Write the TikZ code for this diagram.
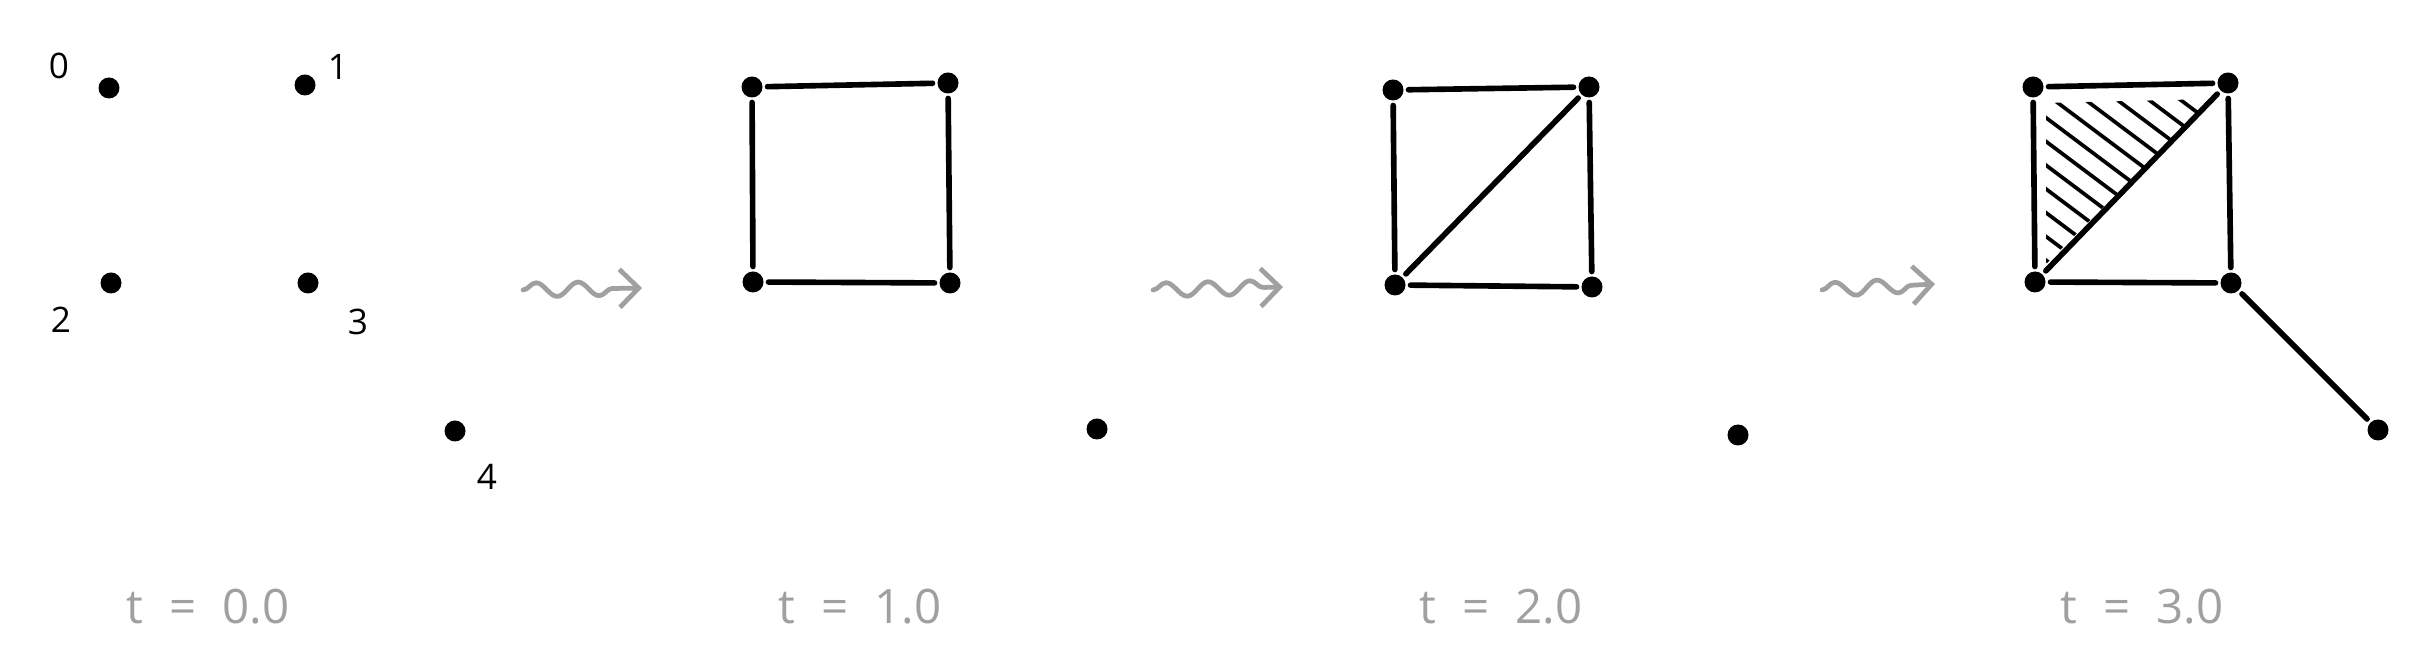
\documentclass[tikz,border=0pt]{standalone}
\usepackage{fontspec}
\setmainfont{Open Sans}
\usepackage{xcolor}
\usetikzlibrary{arrows.meta,calc,decorations.pathmorphing}
\definecolor{sketchgray}{HTML}{A0A0A0}

\begin{document}
\begin{tikzpicture}[>=Latex,
    vertex/.style={circle,fill=black,inner sep=0pt,minimum size=0.21cm,outer sep=0.05cm},
    edge/.style={line width=1.6pt,line cap=round},
    hatch/.style={line width=1.05pt,line cap=round},
    idx/.style={font=\fontsize{10}{11}\selectfont},
    stamp/.style={font=\fontsize{13.5}{15}\selectfont,text=sketchgray,
      execute at begin node={\spaceskip=0.55em}},
    morph/.style={draw=sketchgray,line width=1.35pt,line cap=round,line join=round,
      decorate,decoration={snake,amplitude=0.07cm,segment length=0.42cm,post length=0.18cm},
      -{Straight Barb[length=0.19cm,width=0.38cm,line width=1.35pt]}}]
      \useasboundingbox (0,0) rectangle (24.2,-6.45);
      % t = 0.0
      \node[vertex] (a0) at (1.09,-0.88) {};
      \node[vertex] (a1) at (3.05,-0.85) {};
      \node[vertex] (a2) at (1.11,-2.83) {};
      \node[vertex] (a3) at (3.08,-2.83) {};
      \node[vertex] (a4) at (4.55,-4.31) {};
      \node[idx] (l0) at (0.59,-0.66) {0};
      \node[idx] (l1) at (3.38,-0.67) {1};
      \node[idx] (l2) at (0.61,-3.20) {2};
      \node[idx] (l3) at (3.58,-3.22) {3};
      \node[idx] (l4) at (4.87,-4.77) {4};
      % t = 1.0
      \node[vertex] (b0) at (7.52,-0.87) {};
      \node[vertex] (b1) at (9.48,-0.83) {};
      \node[vertex] (b2) at (7.53,-2.82) {};
      \node[vertex] (b3) at (9.50,-2.83) {};
      \node[vertex] (b4) at (10.97,-4.29) {};
      \draw[edge] (b0) -- (b1);
      \draw[edge] (b0) -- (b2);
      \draw[edge] (b1) -- (b3);
      \draw[edge] (b2) -- (b3);
      % t = 2.0
      \node[vertex] (c0) at (13.93,-0.90) {};
      \node[vertex] (c1) at (15.89,-0.87) {};
      \node[vertex] (c2) at (13.95,-2.85) {};
      \node[vertex] (c3) at (15.92,-2.87) {};
      \node[vertex] (c4) at (17.38,-4.35) {};
      \draw[edge] (c0) -- (c1);
      \draw[edge] (c0) -- (c2);
      \draw[edge] (c1) -- (c3);
      \draw[edge] (c2) -- (c3);
      \draw[edge] (c2) -- (c1);
      % t = 3.0
      \node[vertex] (d0) at (20.33,-0.87) {};
      \node[vertex] (d1) at (22.28,-0.83) {};
      \node[vertex] (d2) at (20.35,-2.82) {};
      \node[vertex] (d3) at (22.31,-2.83) {};
      \node[vertex] (d4) at (23.78,-4.30) {};
      \begin{scope}
        \clip (20.46,-1.03) -- (22.12,-0.99) -- (20.46,-2.64) -- cycle;
        \foreach \s in {0.24,0.43,...,2.75}
          \draw[hatch] ($(d2)+\s*(0.6,0.8)+(-2.4,1.8)$) -- ++(4.8,-3.6);
      \end{scope}
      \draw[edge] (d0) -- (d1);
      \draw[edge] (d0) -- (d2);
      \draw[edge] (d1) -- (d3);
      \draw[edge] (d2) -- (d3);
      \draw[edge] (d2) -- (d1);
      \draw[edge] (d3) -- (d4);
      % arrows between steps
      \coordinate (m1s) at (5.23,-2.90);
      \coordinate (m1e) at (6.42,-2.88);
      \coordinate (m2s) at (11.53,-2.90);
      \coordinate (m2e) at (12.83,-2.87);
      \coordinate (m3s) at (18.22,-2.90);
      \coordinate (m3e) at (19.35,-2.84);
      \draw[morph] (m1s) -- (m1e);
      \draw[morph] (m2s) -- (m2e);
      \draw[morph] (m3s) -- (m3e);
      % time stamps
      \node[stamp] (t0) at (2.08,-6.07) {t = 0.0};
      \node[stamp] (t1) at (8.60,-6.07) {t = 1.0};
      \node[stamp] (t2) at (15.01,-6.07) {t = 2.0};
      \node[stamp] (t3) at (21.42,-6.07) {t = 3.0};
    \end{tikzpicture}
\end{document}
